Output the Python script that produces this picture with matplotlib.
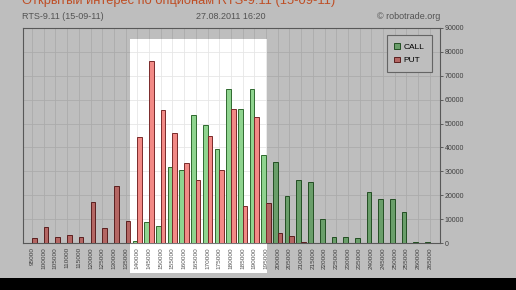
import numpy as np
import matplotlib.pyplot as plt
from matplotlib.patches import Rectangle

# open interest by strike, RTS-9.11 options
strikes = [95000, 100000, 105000, 110000, 115000, 120000, 125000, 130000, 135000,
           140000, 145000, 150000, 155000, 160000, 165000, 170000, 175000, 180000,
           185000, 190000, 195000, 200000, 205000, 210000, 215000, 220000, 225000,
           230000, 235000, 240000, 245000, 250000, 255000, 260000, 265000]
call_oi = [0, 0, 0, 0, 0, 0, 0, 0, 0,
           1000, 8800, 7300, 31900, 30400, 53400, 49200, 39500, 64600,
           56000, 64300, 36700, 34000, 19800, 26500, 25500, 10000, 2500,
           2500, 1900, 21500, 18300, 18600, 12800, 500, 500]
put_oi = [2200, 6800, 2500, 3500, 2500, 17000, 6300, 24000, 9300,
          44500, 76300, 55700, 45900, 33600, 26400, 44800, 30400, 56200,
          15600, 52600, 16900, 4300, 3100, 500, 0, 0, 0,
          0, 0, 0, 0, 0, 0, 0, 0]
yticks = [0, 10000, 20000, 30000, 40000, 50000, 60000, 70000, 80000, 90000]

W, H = 516, 290
fig = plt.figure(figsize=(W / 100, H / 100), dpi=100, facecolor='white')
ax = fig.add_axes([23 / W, 1 - 243 / H, 417 / W, 215 / H])

x = np.arange(len(strikes))
bw = 0.4
ax.bar(x - bw / 2, call_oi, bw, color='#8fd48f', edgecolor='#2f6a2f', linewidth=0.7,
       label='CALL', zorder=3)
ax.bar(x + bw / 2, put_oi, bw, color='#f28a86', edgecolor='#7a2a2a', linewidth=0.7,
       label='PUT', zorder=3)

ax.set_xlim(-0.77, 34.87)
ax.set_ylim(0, 90000)
ax.set_xticks(x)
ax.set_xticklabels([str(s) for s in strikes], rotation=90, fontsize=4.6,
                   color='#555555', family='Liberation Sans')
ax.yaxis.tick_right()
ax.set_yticks(yticks)
ax.set_yticklabels([str(v) for v in yticks], fontsize=5, color='#555555',
                   family='Liberation Sans')
ax.tick_params(axis='x', length=0, pad=3)
ax.tick_params(axis='y', length=2.5, width=0.6, color='#666666', pad=1)
ax.grid(True, color='#e6e6e6', linewidth=0.6, zorder=0)
for sp in ax.spines.values():
    sp.set_color('#777777')
    sp.set_linewidth(0.8)

leg = ax.legend(loc='upper right', bbox_to_anchor=(0.99, 0.985),
                prop={'family': 'Liberation Sans', 'size': 6},
                handlelength=0.7, handleheight=0.7, handletextpad=0.4,
                borderpad=0.9, labelspacing=0.7, fancybox=False,
                edgecolor='#888888', framealpha=1)
leg.get_frame().set_linewidth(0.8)

# header
fig.text(22 / W, 1 - 19 / H, 'RTS-9.11 (15-09-11)', fontsize=6.5,
         family='Liberation Sans', color='#707070')
fig.text(231 / W, 1 - 19 / H, '27.08.2011 16:20', fontsize=6.5,
         family='Liberation Sans', color='#707070', ha='center')
fig.text(440 / W, 1 - 19 / H, '\u00a9 robotrade.org', fontsize=6.5,
         family='Liberation Sans', color='#707070', ha='right')
fig.text(22 / W, 1 - 4 / H, 'Открытый интерес по опционам RTS-9.11 (15-09-11)',
         fontsize=9.3, family='Liberation Sans', color='#ff6a33')

# dim everything except the highlighted strike range
hx0, hx1, hy0, hy1 = 130, 267, 39, 273
shade = dict(facecolor='black', alpha=0.255, edgecolor='none',
             transform=fig.transFigure, zorder=10)
for (px, py, pw, ph) in [(0, 0, W, hy0), (0, hy1, W, H - hy1),
                         (0, hy0, hx0, hy1 - hy0), (hx1, hy0, W - hx1, hy1 - hy0)]:
    fig.add_artist(Rectangle((px / W, 1 - (py + ph) / H), pw / W, ph / H, **shade))

fig.add_artist(Rectangle((0, 0), 1, 12 / H, facecolor='black', edgecolor='none',
                         transform=fig.transFigure, zorder=11))

fig.savefig('out.png', dpi=100)
